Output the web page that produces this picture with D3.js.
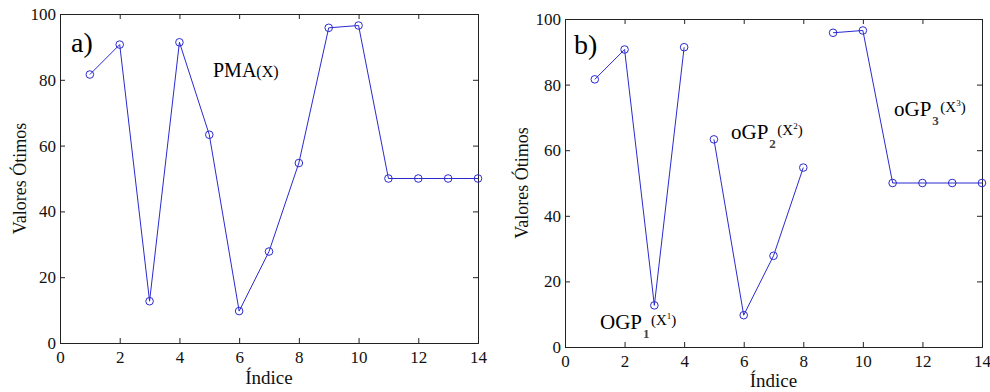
<!DOCTYPE html>
<html>
<head>
<meta charset="utf-8">
<script src="https://cdn.jsdelivr.net/npm/d3@7"></script>
<style>
  body { margin: 0; background: #fff; }
</style>
</head>
<body>
<div id="chart"></div>
<script>
// indices and optimal values
const indices = [1, 2, 3, 4, 5, 6, 7, 8, 9, 10, 11, 12, 13, 14];
const values = [81.6, 90.7, 12.7, 91.4, 63.3, 9.7, 27.8, 54.7, 95.8, 96.5, 50, 50, 50, 50];
// panel b splits the same points into three groups
const groups = [[1, 2, 3, 4], [5, 6, 7, 8], [9, 10, 11, 12, 13, 14]];
const xTicks = [0, 2, 4, 6, 8, 10, 12, 14];
const yTicks = [0, 20, 40, 60, 80, 100];

const serif = "'Liberation Serif', 'Times New Roman', serif";

const svg = d3.select("#chart").append("svg")
    .attr("width", 990)
    .attr("height", 392)
    .style("font-family", serif);

const lineColor = "#2a2ad0";

function panel(left, top, right, bottom, segments) {
    const width = right - left, height = bottom - top;
    const xScale = d3.scaleLinear().domain([0, 14]).range([0, width]);
    const yScale = d3.scaleLinear().domain([0, 100]).range([height, 0]);
    const g = svg.append("g").attr("transform", `translate(${left},${top})`);

    g.append("g")
        .attr("transform", `translate(0,${height})`)
        .call(d3.axisBottom(xScale).tickValues(xTicks).tickSize(-5).tickPadding(8))
        .call(a => a.selectAll("text").style("font-size", "17px").style("font-family", serif).attr("fill", "#111"));
    g.append("g")
        .call(d3.axisTop(xScale).tickValues(xTicks).tickSize(-5).tickFormat(""));
    g.append("g")
        .call(d3.axisLeft(yScale).tickValues(yTicks).tickSize(-5).tickPadding(4))
        .call(a => a.selectAll("text").style("font-size", "17px").style("font-family", serif).attr("fill", "#111"));
    g.append("g")
        .attr("transform", `translate(${width},0)`)
        .call(d3.axisRight(yScale).tickValues(yTicks).tickSize(-5).tickFormat(""));
    g.selectAll(".domain").attr("stroke", "#222");
    g.selectAll(".tick line").attr("stroke", "#222");

    const line = d3.line()
        .x(i => xScale(i))
        .y(i => yScale(values[i - 1]));

    g.selectAll("path.series")
        .data(segments)
        .enter()
        .append("path")
        .attr("class", "series")
        .attr("d", line)
        .attr("fill", "none")
        .attr("stroke", lineColor)
        .attr("stroke-width", 1);

    g.selectAll("circle")
        .data(indices)
        .enter()
        .append("circle")
        .attr("cx", i => xScale(i))
        .attr("cy", i => yScale(values[i - 1]))
        .attr("r", 3.8)
        .attr("fill", "none")
        .attr("stroke", lineColor)
        .attr("stroke-width", 1);

    return { g, width, height };
}

function axisTitles(p, yx, xy) {
    p.g.append("text")
        .attr("x", yx).attr("y", p.height / 2)
        .attr("transform", `rotate(-90,${yx},${p.height / 2})`)
        .attr("text-anchor", "middle")
        .style("font-size", "18px")
        .attr("fill", "#111")
        .text("Valores Ótimos");
    p.g.append("text")
        .attr("x", p.width / 2).attr("y", xy)
        .attr("text-anchor", "middle")
        .style("font-size", "19px")
        .attr("fill", "#111")
        .text("Índice");
}

// panel a)
const a = panel(60, 14, 478, 343, [indices]);
axisTitles(a, -34, 370);
svg.append("text").attr("x", 71).attr("y", 52).style("font-size", "28px").text("a)");
const pma = svg.append("text").attr("x", 213).attr("y", 77).style("font-size", "20px");
pma.append("tspan").text("PMA");
pma.append("tspan").style("font-size", "16px").text("(X)");

// panel b)
const b = panel(565, 19, 982, 347, groups);
axisTitles(b, -37, 368);
svg.append("text").attr("x", 574).attr("y", 54).style("font-size", "28px").text("b)");

// oGP labels: stem, subscript after the P, then (X^k) raised
function gpLabel(x, y, stem, k) {
    const t = svg.append("text").attr("x", x).attr("y", y).style("font-size", "21px");
    t.append("tspan").text(stem);
    const w = t.node().getComputedTextLength();
    svg.append("text").attr("x", x + w + 1).attr("y", y + 9)
        .style("font-size", "13px").style("font-weight", "bold").attr("fill", "#444").text(k);
    const s = svg.append("text").attr("x", x + w + 9).attr("y", y - 4).style("font-size", "15px");
    s.append("tspan").text("(X");
    s.append("tspan").attr("dy", -6).style("font-size", "9px").text(k);
    s.append("tspan").attr("dy", 6).text(")");
}
gpLabel(600, 329, "OGP", "1");
gpLabel(731, 139, "oGP", "2");
gpLabel(894, 116, "oGP", "3");
</script>
</body>
</html>
